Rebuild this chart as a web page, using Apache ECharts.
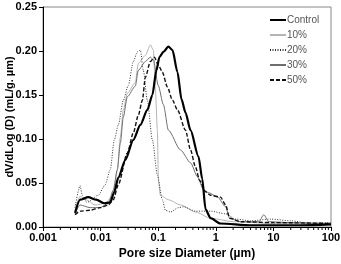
<!DOCTYPE html>
<html>
<head>
<meta charset="utf-8">
<script src="https://cdn.jsdelivr.net/npm/echarts@6/dist/echarts.min.js"></script>
<style>
  html, body { margin: 0; padding: 0; background: #fff; }
  #chart { width: 341px; height: 264px; }
</style>
</head>
<body>
<div id="chart"></div>
<script>
// pore diameters (µm) and dV/dLog(D) values
var controlD = [0.0036, 0.0044, 0.0061, 0.0084, 0.0116, 0.0147, 0.0173, 0.0203, 0.0268, 0.037, 0.049, 0.0648, 0.0792, 0.093, 0.105, 0.123, 0.1506, 0.177, 0.216, 0.254, 0.298, 0.364, 0.501, 0.58, 0.664, 0.811, 1.2, 4, 30, 100];
var controlV = [0.016, 0.031, 0.034, 0.031, 0.027, 0.028, 0.040, 0.056, 0.076, 0.099, 0.116, 0.133, 0.150, 0.178, 0.193, 0.199, 0.205, 0.201, 0.176, 0.145, 0.130, 0.110, 0.080, 0.055, 0.020, 0.010, 0.004, 0.002, 0.002, 0.003];

var p10D = [0.0036, 0.0044, 0.0056, 0.008, 0.012, 0.0166, 0.0195, 0.022, 0.0248, 0.0291, 0.040, 0.0452, 0.0598, 0.0731, 0.0825, 0.0894, 0.0968, 0.1008, 0.109, 0.1506, 0.244, 0.445, 0.811, 2.0, 10, 100];
var p10V = [0.019, 0.035, 0.031, 0.025, 0.027, 0.036, 0.065, 0.102, 0.133, 0.152, 0.164, 0.186, 0.195, 0.207, 0.201, 0.156, 0.110, 0.053, 0.036, 0.031, 0.025, 0.017, 0.010, 0.006, 0.004, 0.004];

var p20D = [0.0036, 0.0044, 0.0048, 0.0058, 0.0091, 0.012, 0.0147, 0.0173, 0.0203, 0.0248, 0.0303, 0.037, 0.0434, 0.049, 0.0552, 0.0648, 0.0792, 0.0968, 0.118, 0.1335, 0.163, 0.225, 0.275, 0.445, 0.811, 1.48, 2.21, 4.0, 9.0, 20, 45, 100];
var p20V = [0.022, 0.047, 0.036, 0.028, 0.036, 0.048, 0.065, 0.099, 0.116, 0.144, 0.161, 0.188, 0.199, 0.201, 0.178, 0.144, 0.099, 0.059, 0.031, 0.019, 0.017, 0.022, 0.023, 0.018, 0.018, 0.015, 0.009, 0.007, 0.009, 0.007, 0.004, 0.005];

var p30D = [0.0036, 0.0044, 0.0066, 0.0098, 0.0136, 0.0166, 0.0195, 0.022, 0.0248, 0.0291, 0.040, 0.0452, 0.0598, 0.0731, 0.0825, 0.100, 0.123, 0.1506, 0.244, 0.364, 0.482, 0.613, 0.75, 1.075, 1.48, 1.74, 2.7, 5.6, 6.8, 8.3, 20, 100];
var p30V = [0.015, 0.025, 0.022, 0.022, 0.027, 0.042, 0.065, 0.095, 0.125, 0.148, 0.160, 0.178, 0.188, 0.193, 0.190, 0.161, 0.139, 0.110, 0.0875, 0.073, 0.057, 0.042, 0.039, 0.034, 0.023, 0.010, 0.006, 0.006, 0.014, 0.006, 0.005, 0.004];

var p50D = [0.0036, 0.0044, 0.0066, 0.0098, 0.0136, 0.0166, 0.0203, 0.0291, 0.037, 0.0452, 0.0531, 0.0598, 0.0731, 0.0859, 0.1008, 0.118, 0.1446, 0.177, 0.216, 0.298, 0.364, 0.445, 0.522, 0.664, 0.811, 1.21, 1.48, 1.74, 2.7, 10, 100];
var p50V = [0.014, 0.018, 0.019, 0.022, 0.025, 0.031, 0.048, 0.084, 0.107, 0.127, 0.144, 0.170, 0.188, 0.193, 0.184, 0.176, 0.159, 0.144, 0.133, 0.110, 0.0875, 0.068, 0.053, 0.040, 0.036, 0.034, 0.025, 0.010, 0.006, 0.005, 0.004];

var seriesNames = ['Control', '10%', '20%', '30%', '50%'];
var xTickLabels = ['0.001', '0.01', '0.1', '1', '10', '100'];

function pairs(d, v) {
    return d.map(function(x, i) { return [x, v[i]]; });
}

// minor ticks at 2..9 of every decade
var minorTicks = [];
for (var e = -3; e < 2; e++) {
    for (var k = 2; k < 10; k++) {
        minorTicks.push([k * Math.pow(10, e), 0]);
    }
}

var chart = echarts.init(document.getElementById('chart'));

var lineBase = { type: 'line', showSymbol: false, symbol: 'none', smooth: 0.25, smoothMonotone: 'x' };

var option = {
    animation: false,
    grid: { left: 43, right: 10, top: 7, bottom: 37, outerBoundsMode: 'none', containLabel: false,
            show: true, borderColor: '#888', borderWidth: 1 },
    legend: {
        data: seriesNames,
        orient: 'vertical',
        left: 264, top: 10,
        itemWidth: 16, itemHeight: 10, itemGap: 5,
        itemStyle: { opacity: 0 },
        textStyle: { fontSize: 10, color: '#555', fontFamily: 'Liberation Sans', padding: [0, 0, 0, -4] }
    },
    xAxis: {
        type: 'log', logBase: 10, min: 0.001, max: 100,
        name: 'Pore size Diameter (µm)', nameLocation: 'middle', nameGap: 21, nameMoveOverlap: false,
        nameTextStyle: { fontSize: 12, fontWeight: 'bold', color: '#000', fontFamily: 'Liberation Sans' },
        axisLine: { lineStyle: { color: '#000', width: 1 } },
        axisTick: { show: true, length: 4, inside: false, lineStyle: { color: '#000' } },
        axisLabel: {
            fontSize: 11, fontWeight: 'bold', color: '#000', fontFamily: 'Liberation Sans', margin: 5,
            formatter: function(v, i) { return xTickLabels[i]; }
        },
        splitLine: { show: false }
    },
    yAxis: {
        type: 'value', min: 0, max: 0.25, interval: 0.05,
        name: 'dV/dLog (D) (mL/g. µm)', nameLocation: 'middle', nameGap: 28, nameMoveOverlap: false,
        nameTextStyle: { fontSize: 11, fontWeight: 'bold', color: '#000', fontFamily: 'Liberation Sans' },
        axisLine: { show: true, lineStyle: { color: '#000', width: 1 } },
        axisTick: { show: true, length: 4, lineStyle: { color: '#000' } },
        axisLabel: {
            fontSize: 11, fontWeight: 'bold', color: '#000', fontFamily: 'Liberation Sans', margin: 6,
            formatter: function(v) { return v.toFixed(2); }
        },
        splitLine: { show: false }
    },
    series: [
        Object.assign({}, lineBase, { name: 'Control', data: pairs(controlD, controlV), z: 5,
            lineStyle: { color: '#000', width: 2.2 }, itemStyle: { color: '#000' } }),
        Object.assign({}, lineBase, { name: '10%', data: pairs(p10D, p10V),
            lineStyle: { color: '#b4b4b4', width: 1 }, itemStyle: { color: '#b4b4b4' } }),
        Object.assign({}, lineBase, { name: '20%', data: pairs(p20D, p20V),
            lineStyle: { color: '#333', width: 1, type: [1, 1.5] }, itemStyle: { color: '#333' } }),
        Object.assign({}, lineBase, { name: '30%', data: pairs(p30D, p30V),
            lineStyle: { color: '#6e6e6e', width: 1 }, itemStyle: { color: '#6e6e6e' } }),
        Object.assign({}, lineBase, { name: '50%', data: pairs(p50D, p50V),
            lineStyle: { color: '#111', width: 1.4, type: [4, 2] }, itemStyle: { color: '#111' } }),
        {
            type: 'custom', silent: true, clip: false, data: minorTicks,
            renderItem: function(params, api) {
                var p = api.coord([api.value(0), 0]);
                return { type: 'line', shape: { x1: p[0], y1: p[1], x2: p[0], y2: p[1] + 3 },
                         style: { stroke: '#000', lineWidth: 1 } };
            }
        }
    ]
};

chart.setOption(option);
</script>
</body>
</html>
